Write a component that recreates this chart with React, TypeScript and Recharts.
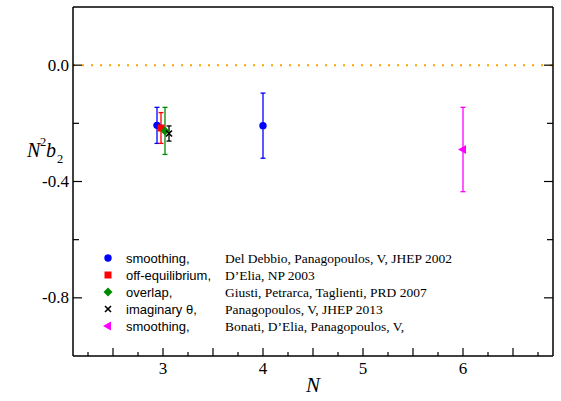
import React from 'react';
import { ComposedChart, Scatter, XAxis, YAxis, ErrorBar, ReferenceLine, Legend } from 'recharts';

// N^2 b_2 values
const delDebbioN = [2.94, 4];
const delDebbioB2 = [-0.207, -0.208];
const delDebbioErr = [0.062, 0.112];

const deliaN = [2.98];
const deliaB2 = [-0.216];
const deliaErr = [0.053];

const giustiN = [3.02];
const giustiB2 = [-0.226];
const giustiErr = [0.081];

const imaginaryN = [3.06];
const imaginaryB2 = [-0.235];
const imaginaryErr = [0.026];

const bonatiN = [6];
const bonatiB2 = [-0.29];
const bonatiErr = [0.145];

const methods = ['smoothing,', 'off-equilibrium,', 'overlap,', 'imaginary \u03b8,', 'smoothing,'];
const references = [
  'Del Debbio, Panagopoulos, V, JHEP 2002',
  'D\u2019Elia, NP 2003',
  'Giusti, Petrarca, Taglienti, PRD 2007',
  'Panagopoulos, V, JHEP 2013',
  'Bonati, D\u2019Elia, Panagopoulos, V,',
];

const xTicks = [2.25, 2.5, 2.75, 3, 3.25, 3.5, 3.75, 4, 4.25, 4.5, 4.75, 5, 5.25, 5.5, 5.75, 6, 6.25, 6.5, 6.75];
const xTickLabels = [3, 4, 5, 6];
const yTicks = [0, -0.2, -0.4, -0.6, -0.8];
const yTickValues = [0, -0.4, -0.8];
const yTickLabels = ['0.0', '-0.4', '-0.8'];

const colors = ['#0000ff', '#ff0000', '#008c00', '#000000', '#ff00ff'];

const toPoints = (n: number[], b2: number[], err: number[]) =>
  n.map((x, i) => ({ x, y: b2[i], err: err[i] }));

const SERIF = '"Liberation Serif", "Times New Roman", serif';
const SANS = '"Liberation Sans", Arial, sans-serif';

const isHalf = (v: number) => Math.abs(v * 2 - Math.round(v * 2)) < 1e-6;

const BottomTick = (props: any) => {
  const { x, y, payload } = props;
  const v = payload.value;
  const labeled = xTickLabels.includes(v);
  return (
    <g>
      <line x1={x} x2={x} y1={y} y2={y - (isHalf(v) ? 8 : 4)} stroke="#000" strokeWidth={1.2} />
      {labeled && (
        <text x={x} y={y + 18} textAnchor="middle" fontFamily={SERIF} fontSize={17} fill="#000">
          {v}
        </text>
      )}
    </g>
  );
};

const TopTick = (props: any) => {
  const { x, y, payload } = props;
  const v = payload.value;
  return <line x1={x} x2={x} y1={y} y2={y + (isHalf(v) ? 8 : 4)} stroke="#000" strokeWidth={1.2} />;
};

const labelIndex = (v: number) => yTickValues.findIndex((t) => Math.abs(t - v) < 1e-6);

const LeftTick = (props: any) => {
  const { x, y, payload } = props;
  const i = labelIndex(payload.value);
  return (
    <g>
      <line x1={x} x2={x + (i >= 0 ? 9 : 6)} y1={y} y2={y} stroke="#000" strokeWidth={1.2} />
      {i >= 0 && (
        <text x={x - 4} y={y + 5.5} textAnchor="end" fontFamily={SERIF} fontSize={17} fill="#000">
          {yTickLabels[i]}
        </text>
      )}
    </g>
  );
};

const RightTick = (props: any) => {
  const { x, y, payload } = props;
  const i = labelIndex(payload.value);
  return <line x1={x} x2={x - (i >= 0 ? 9 : 6)} y1={y} y2={y} stroke="#000" strokeWidth={1.2} />;
};

const Marker = ({ kind, cx, cy, color }: { kind: number; cx: number; cy: number; color: string }) => {
  if (kind === 0) return <circle cx={cx} cy={cy} r={3.7} fill={color} />;
  if (kind === 1) return <rect x={cx - 3.5} y={cy - 3.5} width={7} height={7} fill={color} />;
  if (kind === 2)
    return <polygon points={`${cx},${cy - 4.5} ${cx + 4.5},${cy} ${cx},${cy + 4.5} ${cx - 4.5},${cy}`} fill={color} />;
  if (kind === 3)
    return (
      <g stroke={color} strokeWidth={1.6}>
        <line x1={cx - 3} y1={cy - 3} x2={cx + 3} y2={cy + 3} />
        <line x1={cx - 3} y1={cy + 3} x2={cx + 3} y2={cy - 3} />
      </g>
    );
  return <polygon points={`${cx - 5},${cy} ${cx + 3},${cy - 4.5} ${cx + 3},${cy + 4.5}`} fill={color} />;
};

const shapeFor = (kind: number) => (props: any) => (
  <Marker kind={kind} cx={props.cx} cy={props.cy} color={colors[kind]} />
);

const LegendBox = () => (
  <svg width={380} height={90} style={{ display: 'block' }}>
    {methods.map((m, i) => {
      const cy = 10 + i * 17;
      return (
        <g key={i}>
          <Marker kind={i} cx={13} cy={cy} color={colors[i]} />
          <text x={31} y={cy + 4.5} fontFamily={SANS} fontSize={13} fill="#000">
            {m}
          </text>
          <text x={130} y={cy + 4.5} fontFamily={SERIF} fontSize={13.5} fill="#000">
            {references[i]}
          </text>
        </g>
      );
    })}
  </svg>
);

const YLabel = () => (
  <g fontFamily={SERIF} fill="#000">
    <text x={27} y={157} fontSize={20} fontStyle="italic">N</text>
    <text x={40} y={146} fontSize={12.5}>2</text>
    <text x={46} y={157} fontSize={20} fontStyle="italic">b</text>
    <text x={57} y={163} fontSize={12.5}>2</text>
  </g>
);

const XLabel = () => (
  <text x={313} y={392} textAnchor="middle" fontFamily={SERIF} fontSize={21} fontStyle="italic" fill="#000">
    N
  </text>
);

const series = [
  toPoints(delDebbioN, delDebbioB2, delDebbioErr),
  toPoints(deliaN, deliaB2, deliaErr),
  toPoints(giustiN, giustiB2, giustiErr),
  toPoints(imaginaryN, imaginaryB2, imaginaryErr),
  toPoints(bonatiN, bonatiB2, bonatiErr),
];

export default function App() {
  return (
    <div style={{ position: 'absolute', left: 0, top: 0, width: 561, height: 401, background: '#fff' }}>
      <ComposedChart width={561} height={401} margin={{ top: 0, right: 0, bottom: 0, left: 0 }}>
        <XAxis
          dataKey="x"
          type="number"
          domain={[2.1, 6.9]}
          ticks={xTicks}
          interval={0}
          allowDataOverflow
          height={45}
          tickSize={0}
          tickMargin={0}
          tickLine={false}
          tick={BottomTick}
          axisLine={{ stroke: '#000', strokeWidth: 1.5 }}
          label={<XLabel />}
        />
        <XAxis
          xAxisId="top"
          orientation="top"
          type="number"
          domain={[2.1, 6.9]}
          ticks={xTicks}
          interval={0}
          allowDataOverflow
          height={7}
          tickSize={0}
          tickMargin={0}
          tickLine={false}
          tick={TopTick}
          axisLine={{ stroke: '#000', strokeWidth: 1.5 }}
        />
        <YAxis
          dataKey="y"
          type="number"
          domain={[-1.0, 0.2]}
          ticks={yTicks}
          interval={0}
          allowDataOverflow
          width={73}
          tickSize={0}
          tickMargin={0}
          tickLine={false}
          tick={LeftTick}
          axisLine={{ stroke: '#000', strokeWidth: 1.5 }}
          label={<YLabel />}
        />
        <YAxis
          yAxisId="right"
          orientation="right"
          type="number"
          domain={[-1.0, 0.2]}
          ticks={yTicks}
          interval={0}
          allowDataOverflow
          width={8}
          tickSize={0}
          tickMargin={0}
          tickLine={false}
          tick={RightTick}
          axisLine={{ stroke: '#000', strokeWidth: 1.5 }}
        />
        <ReferenceLine y={0} stroke="#ffa500" strokeWidth={2} strokeDasharray="2 7" />
        {series.map((data, i) => (
          <Scatter key={i} data={data} shape={shapeFor(i)} isAnimationActive={false}>
            <ErrorBar dataKey="err" direction="y" width={2.5} stroke={colors[i]} strokeWidth={1.3} />
          </Scatter>
        ))}
        <Legend
          layout="vertical"
          align="center"
          verticalAlign="middle"
          content={() => <LegendBox />}
          wrapperStyle={{ position: 'absolute', left: 95, top: 248, width: 380, height: 90 }}
        />
      </ComposedChart>
    </div>
  );
}
